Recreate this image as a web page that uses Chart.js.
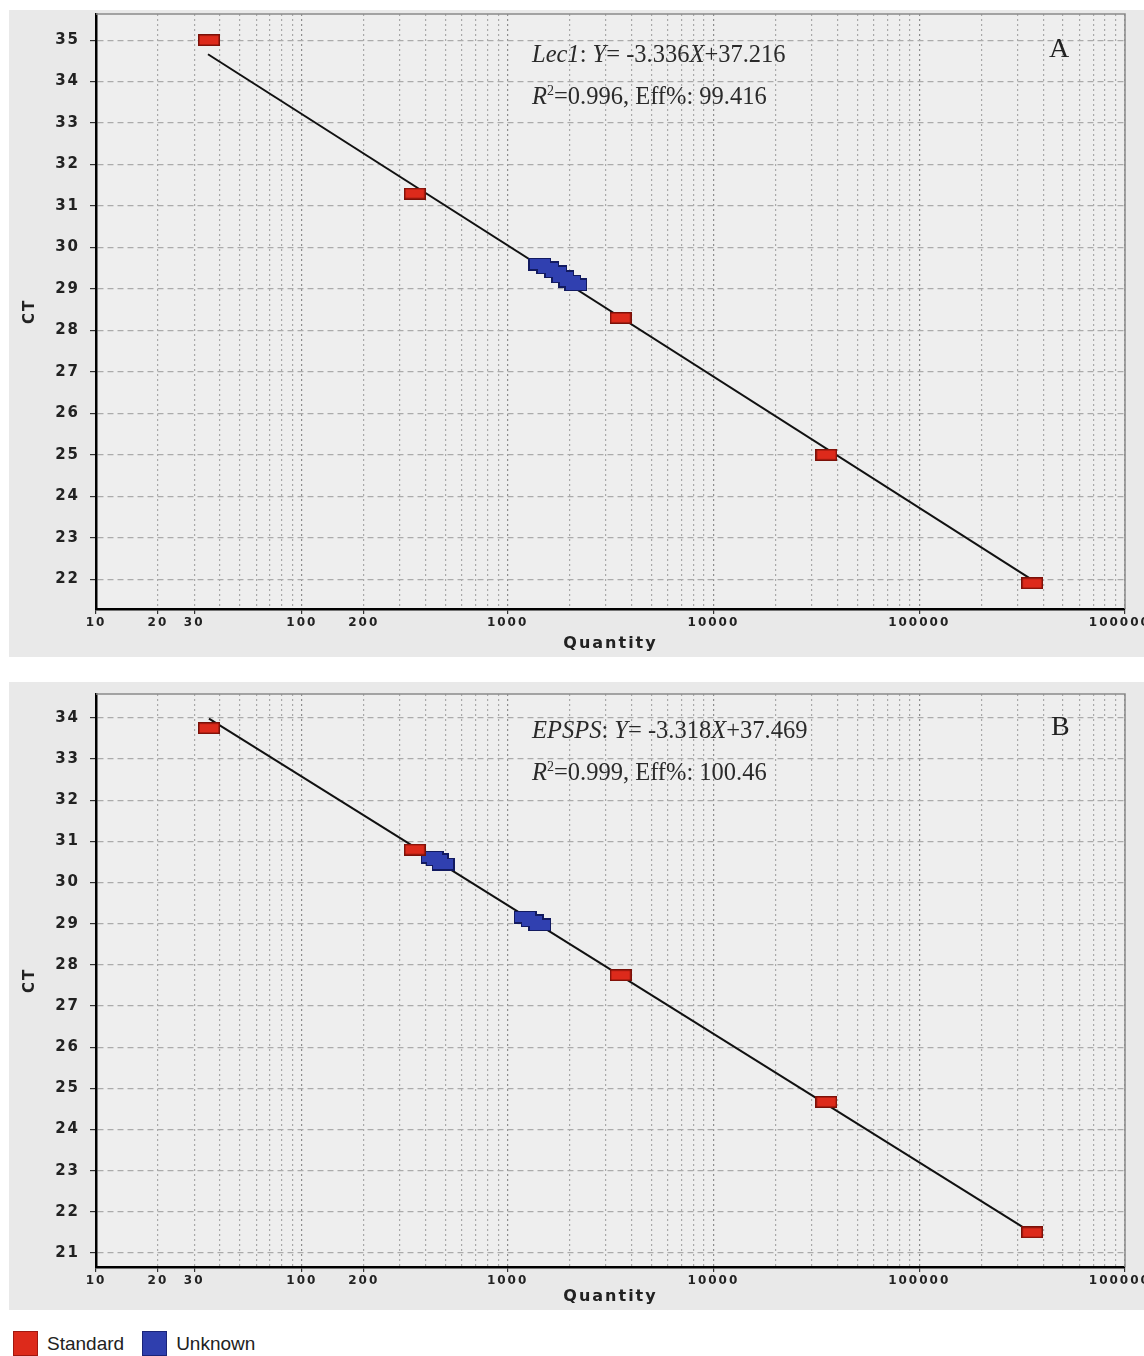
<!DOCTYPE html>
<html>
<head>
<meta charset="utf-8">
<script src="https://cdn.jsdelivr.net/npm/chart.js@4.4.1/dist/chart.umd.min.js"></script>
<style>
  body { margin: 0; width: 1144px; height: 1356px; overflow: hidden; background: #fff; position: relative; }
  .panel { position: absolute; left: 9px; width: 1135px; overflow: hidden; background: #e9e9e9; }
  .panel .wrap { position: relative; width: 1180px; height: 100%; }
  .eq { position: absolute; font-family: "Liberation Serif", serif; font-size: 24.5px; color: #2a2a2a; line-height: 1; white-space: nowrap; }
  .tag { position: absolute; font-family: "Liberation Serif", serif; font-size: 28px; color: #222; }
  .legend { position: absolute; top: 1331px; left: 13px; font-family: "Liberation Sans", sans-serif; font-size: 19px; color: #222; display: flex; align-items: center; }
  .legend span.box { display: inline-block; width: 23px; height: 23px; margin-right: 9px; }
</style>
</head>
<body>
<div class="panel" id="panelA" style="top:10px;height:647px"><div class="wrap" style="top:-5px;height:652px"><canvas id="chartA"></canvas></div></div>
<div class="panel" id="panelB" style="top:682px;height:628px"><div class="wrap"><canvas id="chartB"></canvas></div></div>

<div class="eq" style="left:532px;top:42px"><i>Lec1</i>: <i>Y</i>= -3.336<i>X</i>+37.216</div>
<div class="eq" style="left:532px;top:84px"><i>R</i><sup style="font-size:14px">2</sup>=0.996, Eff%: 99.416</div>
<div class="tag" style="left:1049px;top:32px">A</div>

<div class="eq" style="left:532px;top:718px"><i>EPSPS</i>: <i>Y</i>= -3.318<i>X</i>+37.469</div>
<div class="eq" style="left:532px;top:760px"><i>R</i><sup style="font-size:14px">2</sup>=0.999, Eff%: 100.46</div>
<div class="tag" style="left:1051px;top:710px">B</div>

<div class="legend">
  <span class="box" style="background:#dd2a1b;border:1px solid #a01810"></span><span style="margin-right:18px">Standard</span>
  <span class="box" style="background:#2f3fae;border:1px solid #1a2478"></span><span>Unknown</span>
</div>

<script>
// standards (same dilution series in both panels)
const stdQty = [35.4, 354, 3540, 35400, 354000];
const stdCtA = [35.0, 31.3, 28.3, 25.0, 21.9];
const stdCtB = [33.75, 30.8, 27.75, 24.67, 21.5];

// unknown samples
const unkQtyA = [1436, 1570, 1718, 1858, 2010, 2148];
const unkCtA = [29.6, 29.51, 29.41, 29.29, 29.19, 29.1];
const unkQtyB = [430, 454, 486, 1216, 1315, 1436];
const unkCtB = [30.62, 30.55, 30.45, 29.16, 29.07, 28.97];

// regression line end points
const fitQtyA = [35.0, 345000];
const fitCtA = [34.66, 22.02];
const fitQtyB = [35.4, 319000];
const fitCtB = [33.98, 21.63];

const xTickLabels = [10, 20, 30, 100, 200, 1000, 10000, 100000, 1000000];

function marker(w, h, fill, stroke) {
    const c = document.createElement('canvas');
    c.width = w;
    c.height = h;
    const g = c.getContext('2d');
    g.fillStyle = stroke || fill;
    g.fillRect(0, 0, w, h);
    if (stroke) {
        g.fillStyle = fill;
        g.fillRect(1.5, 1.5, w - 3, h - 3);
    }
    return c;
}
const redBox = marker(22, 12, '#dd2a1b', '#7a1008');
// unknowns: dark outline layer below, plain fill on top so overlaps merge
const blueEdge = marker(23, 13, '#121a60');
const blueFill = marker(20, 10, '#3040b0');

const frame = {
    id: 'frame',
    beforeLayout(chart) { chart.ctx.letterSpacing = '2px'; },
    beforeDraw(chart) {
        const { ctx, chartArea: a } = chart;
        ctx.letterSpacing = '2px';
        ctx.save();
        ctx.fillStyle = '#eeeeee';
        ctx.fillRect(a.left, a.top, a.right - a.left, a.bottom - a.top);
        ctx.restore();
    },
    beforeDatasetsDraw(chart) {
        const { ctx, chartArea: a } = chart;
        ctx.save();
        ctx.strokeStyle = '#8a8a8a';
        ctx.lineWidth = 1.5;
        ctx.beginPath();
        ctx.moveTo(a.left, a.top);
        ctx.lineTo(a.right, a.top);
        ctx.lineTo(a.right, a.bottom);
        ctx.stroke();
        ctx.restore();
    }
};

function makeChart(id, cfg) {
    const pts = (xs, ys) => xs.map((x, i) => ({ x, y: ys[i] }));
    return new Chart(document.getElementById(id), {
        type: 'scatter',
        data: {
            datasets: [
                { data: pts(stdQty, cfg.std), pointStyle: redBox, pointRadius: 8 },
                { data: pts(cfg.unkQty, cfg.unkCt), pointStyle: blueFill, pointRadius: 8 },
                { data: pts(cfg.unkQty, cfg.unkCt), pointStyle: blueEdge, pointRadius: 8 },
                { data: pts(cfg.fitQty, cfg.fitCt), showLine: true, borderColor: '#111', borderWidth: 2, pointRadius: 0 },
            ],
        },
        options: {
            responsive: true,
            maintainAspectRatio: false,
            animation: false,
            layout: { padding: { top: cfg.top, right: 64, left: 0, bottom: 0 } },
            plugins: { legend: { display: false }, tooltip: { enabled: false } },
            scales: {
                x: {
                    type: 'logarithmic',
                    min: 10,
                    max: 1000000,
                    afterBuildTicks(scale) {
                        const t = [];
                        for (let e = 1; e < 6; e++) {
                            for (let k = 1; k < 10; k++) t.push({ value: k * Math.pow(10, e) });
                        }
                        t.push({ value: 1000000 });
                        scale.ticks = t;
                    },
                    afterFit(scale) { scale.height = cfg.xh; },
                    ticks: {
                        autoSkip: false,
                        maxRotation: 0,
                        padding: 2,
                        color: '#222',
                        font: { family: 'DejaVu Sans', size: 12, weight: 'bold' },
                        callback: v => xTickLabels.includes(v) ? String(v) : '',
                    },
                    grid: {
                        color: ctx => Math.log10(ctx.tick.value) % 1 === 0 ? '#8c8c8c' : '#a8a8a8',
                        lineWidth: 1.2,
                        tickLength: 5,
                        tickColor: ctx => xTickLabels.includes(ctx.tick.value) ? '#333' : 'rgba(0,0,0,0)',
                    },
                    border: { color: '#000', width: 2.5, dash: [2, 3] },
                    title: {
                        display: true,
                        text: 'Quantity',
                        color: '#222',
                        font: { family: 'DejaVu Sans', size: 16, weight: 'bold' },
                        padding: { top: 0, bottom: 4 },
                    },
                },
                y: {
                    min: cfg.ymin,
                    max: cfg.ymax,
                    afterFit(scale) {
                        scale.width = 87;
                        scale.paddingTop = 0;
                        scale.paddingBottom = 0;
                    },
                    ticks: {
                        stepSize: 1,
                        includeBounds: false,
                        padding: 10,
                        color: '#222',
                        font: { family: 'DejaVu Sans', size: 15, weight: 'bold' },
                    },
                    grid: { color: '#ababab', lineWidth: 1.2, tickLength: 6, tickColor: '#333' },
                    border: { color: '#000', width: 2.5, dash: [6, 4] },
                    title: {
                        display: true,
                        text: 'CT',
                        color: '#222',
                        font: { family: 'DejaVu Sans', size: 15, weight: 'bold' },
                        padding: { top: 12, bottom: 0 },
                    },
                },
            },
        },
        plugins: [frame],
    });
}

makeChart('chartA', {
    std: stdCtA, unkQty: unkQtyA, unkCt: unkCtA, fitQty: fitQtyA, fitCt: fitCtA,
    ymin: 21.28, ymax: 35.63, top: 0, xh: 48,
});
makeChart('chartB', {
    std: stdCtB, unkQty: unkQtyB, unkCt: unkCtB, fitQty: fitQtyB, fitCt: fitCtB,
    ymin: 20.66, ymax: 34.58, top: 12, xh: 43,
});
</script>
</body>
</html>
